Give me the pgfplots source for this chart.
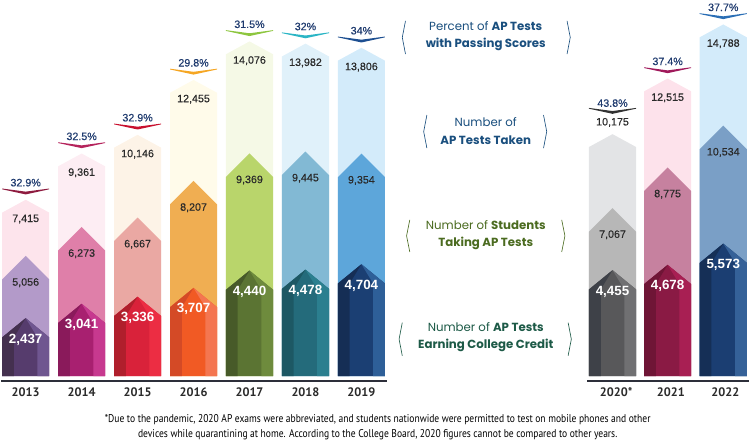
\documentclass[border=0pt]{standalone}
\usepackage{pgfplots}
\usepackage{pgfplotstable}
\pgfplotsset{compat=1.18}
\usepackage{fontspec}
\setmainfont{Liberation Sans}
\newfontfamily\numfont[FakeBold=0.35]{Liberation Sans}
\newfontfamily\legfont{Poppins}
\newfontfamily\ptsans{PT Sans}
\newfontfamily\ptnarrow[FakeStretch=0.85]{PT Sans}

\definecolor{top0}{HTML}{FDE4EC}\definecolor{mid0}{HTML}{B39AC9}\definecolor{bot0}{HTML}{563C6D}\definecolor{botl0}{HTML}{44304F}\definecolor{botr0}{HTML}{6F5690}\definecolor{chev0}{HTML}{8E1B3F}
\definecolor{top1}{HTML}{FDEDF3}\definecolor{mid1}{HTML}{DF7FA9}\definecolor{bot1}{HTML}{A82070}\definecolor{botl1}{HTML}{8A1A5B}\definecolor{botr1}{HTML}{C7398F}\definecolor{chev1}{HTML}{B5245C}
\definecolor{top2}{HTML}{FDF3E7}\definecolor{mid2}{HTML}{EAA8A3}\definecolor{bot2}{HTML}{D9223A}\definecolor{botl2}{HTML}{B01F2C}\definecolor{botr2}{HTML}{EC2D43}\definecolor{chev2}{HTML}{C8102E}
\definecolor{top3}{HTML}{FFFBEA}\definecolor{mid3}{HTML}{F0AE52}\definecolor{bot3}{HTML}{F15A24}\definecolor{botl3}{HTML}{D44A26}\definecolor{botr3}{HTML}{F47650}\definecolor{chev3}{HTML}{F5A623}
\definecolor{top4}{HTML}{F5F9E6}\definecolor{mid4}{HTML}{B9D56B}\definecolor{bot4}{HTML}{5B7433}\definecolor{botl4}{HTML}{475A29}\definecolor{botr4}{HTML}{6E8B3D}\definecolor{chev4}{HTML}{8DC63F}
\definecolor{top5}{HTML}{E0F1FA}\definecolor{mid5}{HTML}{82B9D4}\definecolor{bot5}{HTML}{246B7B}\definecolor{botl5}{HTML}{1D5864}\definecolor{botr5}{HTML}{2B7F8F}\definecolor{chev5}{HTML}{2BB5C5}
\definecolor{top6}{HTML}{D3EBFA}\definecolor{mid6}{HTML}{5DA6DA}\definecolor{bot6}{HTML}{1B3F73}\definecolor{botl6}{HTML}{152E55}\definecolor{botr6}{HTML}{2E5F98}\definecolor{chev6}{HTML}{1D4F91}
\definecolor{top7}{HTML}{E3E4E6}\definecolor{mid7}{HTML}{B7B7B7}\definecolor{bot7}{HTML}{58585A}\definecolor{botl7}{HTML}{3E4148}\definecolor{botr7}{HTML}{707072}\definecolor{chev7}{HTML}{333333}
\definecolor{top8}{HTML}{FDE2EB}\definecolor{mid8}{HTML}{C6819F}\definecolor{bot8}{HTML}{8A1A44}\definecolor{botl8}{HTML}{6F1536}\definecolor{botr8}{HTML}{A81F53}\definecolor{chev8}{HTML}{A0195B}
\definecolor{top9}{HTML}{D3EBFA}\definecolor{mid9}{HTML}{7A9FC6}\definecolor{bot9}{HTML}{1B3E72}\definecolor{botl9}{HTML}{152F56}\definecolor{botr9}{HTML}{356198}\definecolor{chev9}{HTML}{2A6EB5}
\definecolor{numgray}{HTML}{2A2A2A}
\definecolor{pctblue}{HTML}{1E3A6E}
\definecolor{axisdark}{HTML}{2D2F3A}
\definecolor{legblue}{HTML}{1A4F7E}
\definecolor{leggreen}{HTML}{4B6B20}
\definecolor{legteal}{HTML}{1D5A47}

\pgfkeys{/pgf/number format/.cd,fixed,precision=0,1000 sep={,},assume math mode=true}

\tikzset{
  vlab/.style={font=\numfont\fontsize{10}{12}\selectfont, text=numgray},
  wlab/.style={font=\bfseries\fontsize{12.5}{14}\selectfont, text=white},
  plab/.style={font=\numfont\fontsize{10}{12}\selectfont, text=pctblue},
  ylab/.style={font=\ptsans\bfseries\fontsize{11.5}{13}\selectfont, text=numgray},
  leg/.style={align=center, font=\legfont\fontsize{11}{16}\selectfont},
}

\pgfplotstableread{
x top mid bot pct tlo cho pco yx yr
53 7415 5056 2437 32.9 -18 5 16 53 2013
105.3 9361 6273 3041 32.5 -18 5 16 105.3 2014
157.6 10146 6667 3336 32.9 -18 5 16 157.6 2015
209.9 12455 8207 3707 29.8 -18 5 16 209.9 2016
262.2 14076 9369 4440 31.5 -18 5 16 262.2 2017
314.5 13982 9445 4478 32 -18 5 16 314.5 2018
366.8 13806 9354 4704 34 -18 5 16 366.8 2019
601.5 10175 7067 4455 43.8 11 19 29 605 2020*
653 12515 8775 4678 37.4 -18 5 16 656 2021
705 14788 10534 5573 37.7 -18 5 16 707 2022
}\data

\begin{document}
\begin{tikzpicture}
\begin{axis}[
  scale only axis, width=750pt, height=422pt,
  xmin=0, xmax=750, ymin=-3285, ymax=15705,
  hide axis, clip=false,
]
\pgfplotsforeachungrouped \i in {0,...,9}{%
  \pgfplotstablegetelem{\i}{x}\of\data \let\xc\pgfplotsretval
  \pgfplotstablegetelem{\i}{top}\of\data \let\vt\pgfplotsretval
  \pgfplotstablegetelem{\i}{mid}\of\data \let\vm\pgfplotsretval
  \pgfplotstablegetelem{\i}{bot}\of\data \let\vb\pgfplotsretval
  \pgfplotstablegetelem{\i}{pct}\of\data \let\vp\pgfplotsretval
  \pgfplotstablegetelem{\i}{tlo}\of\data \let\tlo\pgfplotsretval
  \pgfplotstablegetelem{\i}{cho}\of\data \let\cho\pgfplotsretval
  \pgfplotstablegetelem{\i}{pco}\of\data \let\pco\pgfplotsretval
  \pgfplotstablegetelem{\i}{yx}\of\data \let\yxc\pgfplotsretval
  \pgfplotstablegetelem{\i}{yr}\of\data \let\yr\pgfplotsretval
  \pgfmathsetmacro\xl{\xc-22}
  \pgfmathsetmacro\xr{\xc+22}
  \pgfmathsetmacro\xil{\xc-11}
  \pgfmathsetmacro\xir{\xc+11}
  \pgfmathsetmacro\st{\vt-540}
  \pgfmathsetmacro\sm{\vm-990}
  \pgfmathsetmacro\sb{\vb-810}
  \pgfmathsetmacro\ytl{\vt+(\tlo)*45}
  \pgfmathsetmacro\yml{\vm-25*45}
  \pgfmathsetmacro\ybl{\vb-20*45}
  \pgfmathsetmacro\cha{\vt+(\cho)*45}
  \pgfmathsetmacro\chc{\vt+(\cho+2.6)*45}
  \pgfmathsetmacro\chet{\vt+(\cho+5.5)*45}
  \pgfmathsetmacro\cheb{\vt+(\cho+4.8)*45}
  \pgfmathsetmacro\ypc{\vt+(\pco)*45}
  \edef\cmd{%
    \noexpand\addplot[draw=none,fill=top\i] coordinates {(\xl,0) (\xl,\st) (\xc,\vt) (\xr,\st) (\xr,0)} -- cycle;
    \noexpand\addplot[draw=none,fill=mid\i] coordinates {(\xl,0) (\xl,\sm) (\xc,\vm) (\xr,\sm) (\xr,0)} -- cycle;
    \noexpand\addplot[draw=none,fill=bot\i] coordinates {(\xl,0) (\xl,\sb) (\xc,\vb) (\xr,\sb) (\xr,0)} -- cycle;
    \noexpand\addplot[draw=none,fill=botl\i] coordinates {(\xl,0) (\xl,\sb) (\xc,\vb) (\xil,\sb) (\xil,0)} -- cycle;
    \noexpand\addplot[draw=none,fill=botr\i] coordinates {(\xir,0) (\xir,\sb) (\xc,\vb) (\xr,\sb) (\xr,0)} -- cycle;
    \noexpand\addplot[draw=none,fill=chev\i] coordinates {(\xl,\chet) (\xc,\chc) (\xr,\chet) (\xr,\cheb) (\xc,\cha) (\xl,\cheb)} -- cycle;
    \noexpand\node[vlab] at (axis cs:\xc,\ytl) {\noexpand\pgfmathprintnumber{\vt}};
    \noexpand\node[vlab] at (axis cs:\xc,\yml) {\noexpand\pgfmathprintnumber{\vm}};
    \noexpand\node[wlab] at (axis cs:\xc,\ybl) {\noexpand\pgfmathprintnumber{\vb}};
    \noexpand\node[plab] at (axis cs:\xc,\ypc) {\vp\noexpand\%};
    \noexpand\node[ylab] at (axis cs:\yxc,-675) {\yr};
  }\cmd
}
% baselines
\addplot[draw=axisdark, line width=2pt] coordinates {(30,-225) (391,-225)};
\addplot[draw=axisdark, line width=2pt] coordinates {(578,-225) (729,-225)};

% legend-like labels
\node[leg, text=legblue] at (axis cs:483,14310) {Percent of \textbf{AP Tests}\\\textbf{with Passing Scores}};
\addplot[draw=legblue, line width=0.6pt] coordinates {(408,14940) (405,14242) (408,13545)};
\addplot[draw=legblue, line width=0.6pt] coordinates {(559,14940) (562,14242) (559,13545)};

\node[leg, text=legblue] at (axis cs:483,10305) {Number of\\\textbf{AP Tests Taken}};
\addplot[draw=legblue, line width=0.6pt] coordinates {(428,10980) (425,10282) (428,9585)};
\addplot[draw=legblue, line width=0.6pt] coordinates {(537,10980) (540,10282) (537,9585)};

\node[leg, text=leggreen] at (axis cs:483,5918) {Number of \textbf{Students}\\\textbf{Taking AP Tests}};
\addplot[draw=leggreen, line width=0.6pt] coordinates {(412,6570) (409,5895) (412,5220)};
\addplot[draw=leggreen, line width=0.6pt] coordinates {(554,6570) (557,5895) (554,5220)};

\node[leg, text=legteal] at (axis cs:483,1620) {Number of \textbf{AP Tests}\\\textbf{Earning College Credit}};
\addplot[draw=legteal, line width=0.6pt] coordinates {(405,2250) (402,1552) (405,855)};
\addplot[draw=legteal, line width=0.6pt] coordinates {(560,2250) (563,1552) (560,855)};

% footnote
\node[font=\ptnarrow\fontsize{10.5}{12}\selectfont, text=black] at (axis cs:382,-1845) {*Due to the pandemic, 2020 AP exams were abbreviated, and students nationwide were permitted to test on mobile phones and other};
\node[font=\ptnarrow\fontsize{10.5}{12}\selectfont, text=black] at (axis cs:382,-2475) {devices while quarantining at home. According to the College Board, 2020 figures cannot be compared to other years.};
\end{axis}
\end{tikzpicture}
\end{document}
